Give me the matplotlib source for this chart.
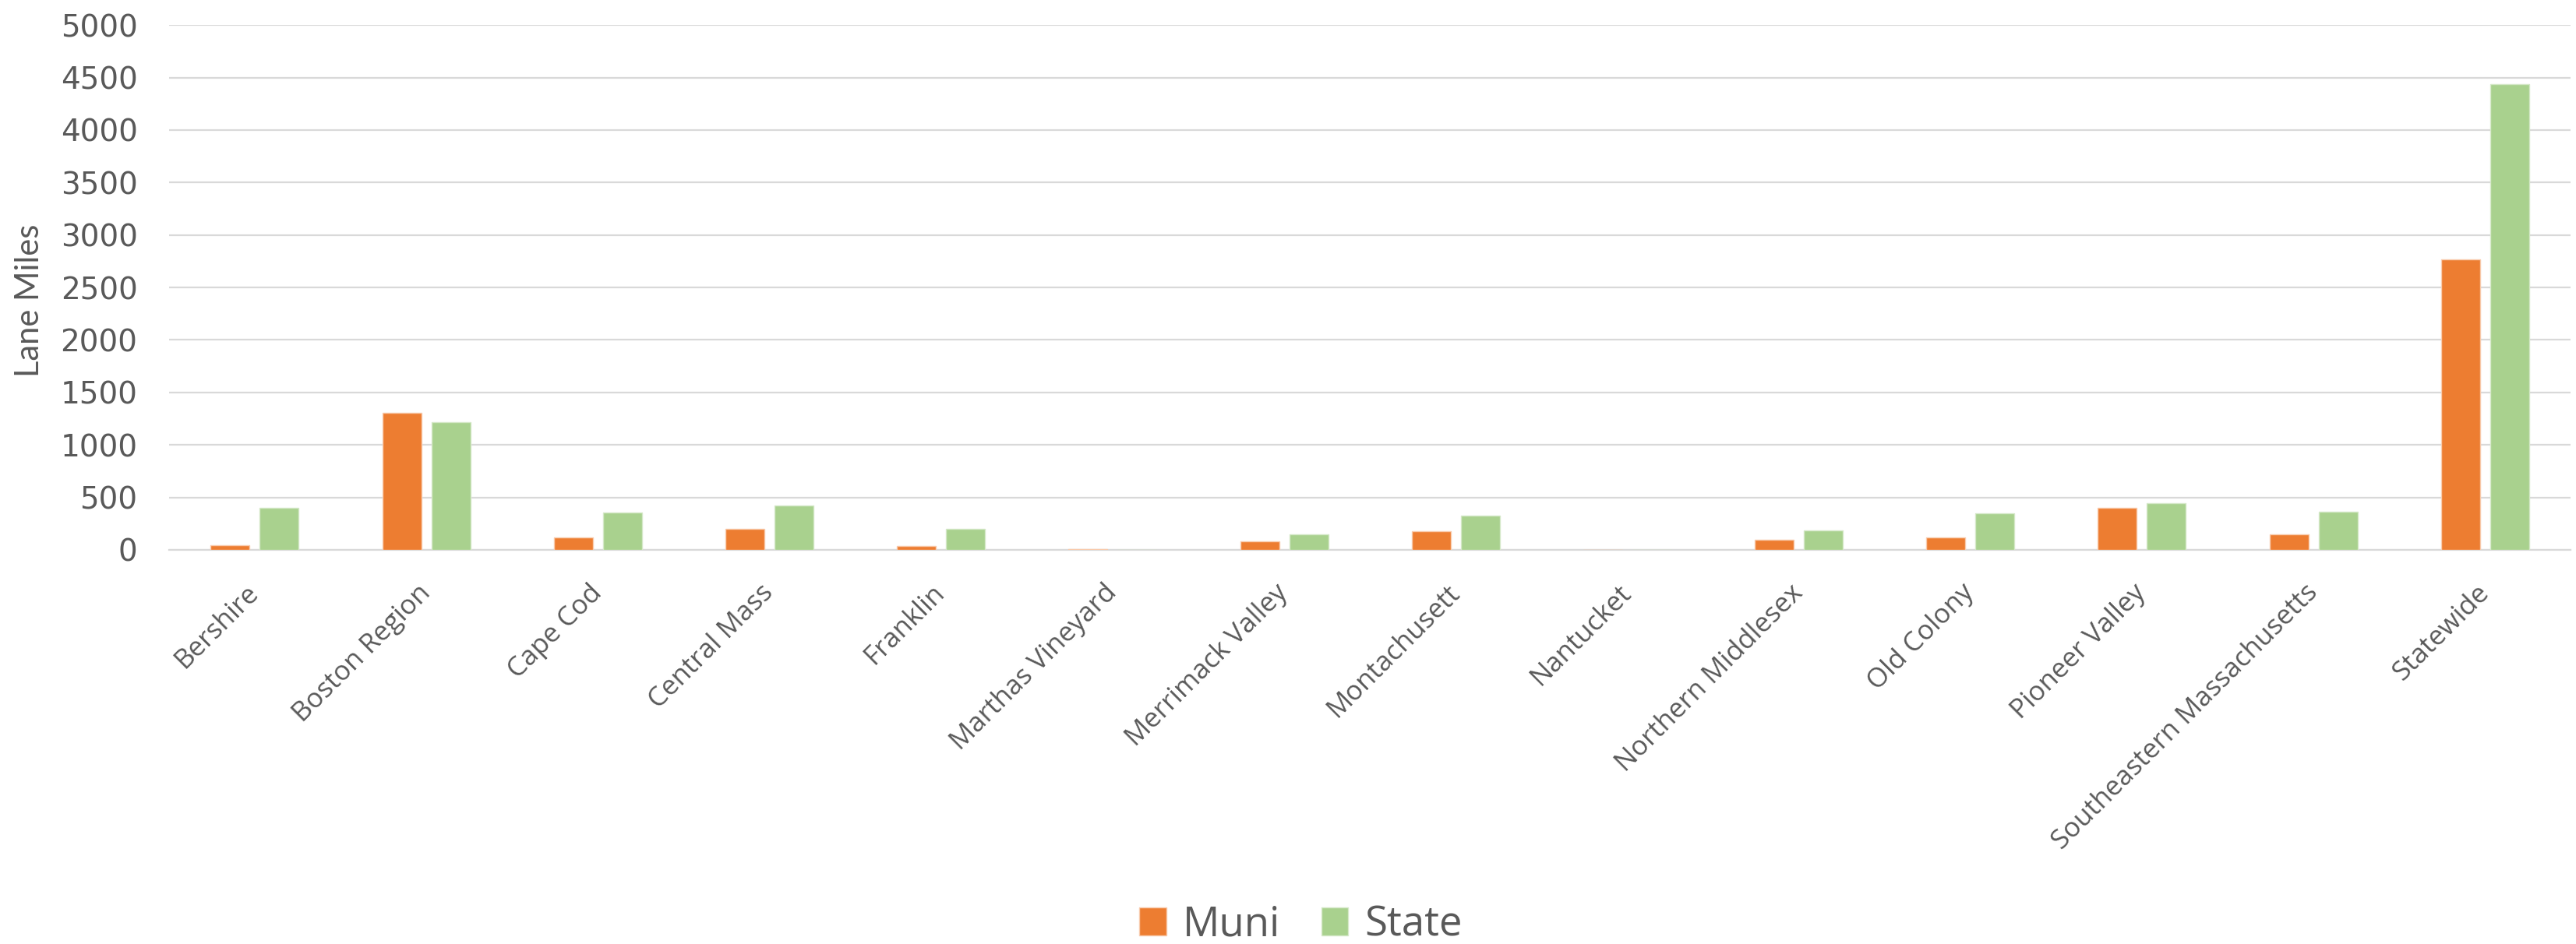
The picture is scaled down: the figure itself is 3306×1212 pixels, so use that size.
import numpy as np
import matplotlib.pyplot as plt

# data
regions = ['Bershire', 'Boston Region', 'Cape Cod', 'Central Mass', 'Franklin',
           'Marthas Vineyard', 'Merrimack Valley', 'Montachusett', 'Nantucket',
           'Northern Middlesex', 'Old Colony', 'Pioneer Valley',
           'Southeastern Massachusetts', 'Statewide']
muni = [47, 1309, 120, 198, 35, 10, 80, 175, 0, 97, 122, 400, 145, 2765]
state = [398, 1220, 355, 423, 198, 2, 145, 325, 0, 182, 347, 448, 362, 4438]
yticks = [0, 500, 1000, 1500, 2000, 2500, 3000, 3500, 4000, 4500, 5000]

orange = '#ED7D31'
green = '#A9D18E'
txt = '#595959'
grid = '#D9D9D9'

fig = plt.figure(figsize=(33.06, 12.12), dpi=100)
ax = fig.add_axes([0.0656, 0.4175, 0.9324, 0.556])

x = np.arange(len(regions))
w = 0.227
ax.bar(x - 0.143, muni, w, color=orange, edgecolor='#F8CBAD', linewidth=1, label='Muni', zorder=3)
ax.bar(x + 0.143, state, w, color=green, edgecolor='#D5E8C8', linewidth=1, label='State', zorder=3)

ax.set_xlim(-0.5, len(regions) - 0.5)
ax.set_ylim(0, 5000)
ax.set_yticks(yticks)
ax.set_yticklabels([str(v) for v in yticks], fontsize=28, color=txt, family='DejaVu Sans')
ax.grid(axis='y', color=grid, linewidth=1.6, zorder=0)
ax.set_axisbelow(True)
ax.tick_params(axis='both', length=0)
ax.tick_params(axis='y', pad=29)

ax.set_xticks(x)
ax.set_xticklabels(regions, fontsize=25, color=txt, family='Open Sans',
                   rotation=45, ha='right', va='center', rotation_mode='anchor')
ax.tick_params(axis='x', pad=36)

for s in ['top', 'right', 'left']:
    ax.spines[s].set_visible(False)
ax.spines['bottom'].set_color(grid)
ax.spines['bottom'].set_linewidth(1.6)

ax.set_ylabel('Lane Miles', fontsize=30, color=txt, family='Lato')
ax.yaxis.set_label_coords(-0.052, 0.475)

fig.legend(loc='center', bbox_to_anchor=(0.505, 0.02), ncol=2, frameon=False,
           prop={'family': 'Open Sans', 'size': 38}, labelcolor=txt,
           handlelength=0.65, handleheight=0.65, handletextpad=0.4, columnspacing=1.0)

fig.savefig('out.png', dpi=100, facecolor='white')
